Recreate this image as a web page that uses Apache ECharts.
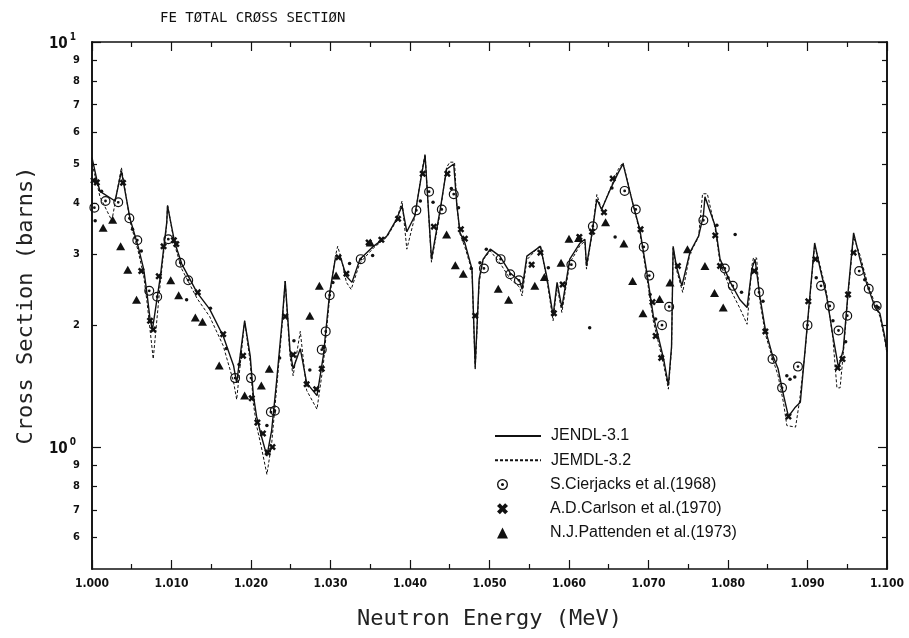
<!DOCTYPE html>
<html>
<head>
<meta charset="utf-8">
<title>FE TOTAL CROSS SECTION</title>
<script src="https://cdn.jsdelivr.net/npm/echarts@6/dist/echarts.min.js"></script>
<style>
  html, body { margin: 0; padding: 0; background: #ffffff; }
  #chart { width: 909px; height: 638px; }
</style>
</head>
<body>
<div id="chart"></div>
<script>
// Neutron energy grid (MeV) and evaluated total cross sections (barns)
const jendlE = [
  1.0000, 1.0006, 1.0010, 1.0029, 1.0037, 1.0048, 1.0058, 1.0065, 1.0069, 1.0073,
  1.0076, 1.0086, 1.0094, 1.0095, 1.0104, 1.0113, 1.0132, 1.0148, 1.0165, 1.0178,
  1.0182, 1.0192, 1.0199, 1.0203, 1.0207, 1.0213, 1.0220, 1.0226, 1.0232, 1.0239,
  1.0243, 1.0249, 1.0253, 1.0262, 1.0270, 1.0283, 1.0291, 1.0299, 1.0306, 1.0312,
  1.0320, 1.0327, 1.0337, 1.0354, 1.0371, 1.0383, 1.0390, 1.0396, 1.0406, 1.0415,
  1.0419, 1.0427, 1.0438, 1.0446, 1.0455, 1.0459, 1.0463, 1.0469, 1.0478, 1.0482,
  1.0487, 1.0492, 1.0501, 1.0513, 1.0526, 1.0538, 1.0541, 1.0547, 1.0564, 1.0572,
  1.0580, 1.0585, 1.0591, 1.0601, 1.0614, 1.0620, 1.0622, 1.0629, 1.0635, 1.0641,
  1.0652, 1.0662, 1.0668, 1.0681, 1.0689, 1.0698, 1.0706, 1.0719, 1.0725, 1.0729,
  1.0731, 1.0735, 1.0742, 1.0752, 1.0763, 1.0769, 1.0771, 1.0784, 1.0790, 1.0803,
  1.0815, 1.0824, 1.0830, 1.0834, 1.0840, 1.0847, 1.0855, 1.0863, 1.0870, 1.0876,
  1.0884, 1.0891, 1.0897, 1.0903, 1.0909, 1.0916, 1.0924, 1.0932, 1.0939, 1.0945,
  1.0951, 1.0958, 1.0966, 1.0974, 1.0985, 1.0991, 1.0997, 1.1000
];
const jendl31 = [
  5.18, 4.58, 4.28, 4.05, 4.80, 3.65, 3.13, 2.75, 2.41, 2.07,
  1.95, 2.64, 3.58, 3.94, 3.20, 2.83, 2.41, 2.19, 1.88, 1.59,
  1.44, 2.05, 1.68, 1.34, 1.19, 1.065, 0.95, 1.10, 1.44, 2.03,
  2.57, 1.74, 1.56, 1.75, 1.44, 1.34, 1.68, 2.41, 2.91, 2.96,
  2.64, 2.55, 2.91, 3.13, 3.32, 3.65, 3.94, 3.40, 3.72, 4.76,
  5.24, 2.91, 3.86, 4.85, 5.00, 3.94, 3.38, 3.19, 2.75, 1.58,
  2.60, 2.91, 3.08, 2.96, 2.69, 2.57, 2.45, 2.96, 3.13, 2.64,
  2.11, 2.55, 2.21, 2.91, 3.19, 3.26, 2.80, 3.38, 4.09, 3.86,
  4.33, 4.76, 5.00, 3.94, 3.45, 2.69, 2.11, 1.65, 1.42, 1.77,
  3.13, 2.80, 2.50, 3.02, 3.32, 3.72, 4.15, 3.51, 2.91, 2.55,
  2.31, 2.21, 2.75, 2.91, 2.36, 1.95, 1.71, 1.56, 1.34, 1.19,
  1.25, 1.29, 1.74, 2.36, 3.19, 2.75, 2.36, 1.88, 1.57, 1.74,
  2.41, 3.38, 2.91, 2.55, 2.21, 2.14, 1.88, 1.72
];

const jemdlE = [
  1.0000, 1.0006, 1.0010, 1.0025, 1.0037, 1.0048, 1.0058, 1.0065, 1.0069, 1.0073,
  1.0077, 1.0086, 1.0094, 1.0095, 1.0104, 1.0113, 1.0132, 1.0148, 1.0165, 1.0178,
  1.0182, 1.0192, 1.0199, 1.0203, 1.0207, 1.0213, 1.0220, 1.0226, 1.0232, 1.0239,
  1.0243, 1.0249, 1.0253, 1.0262, 1.0270, 1.0283, 1.0291, 1.0299, 1.0306, 1.0309,
  1.0314, 1.0320, 1.0326, 1.0337, 1.0354, 1.0371, 1.0383, 1.0390, 1.0396, 1.0406,
  1.0415, 1.0419, 1.0427, 1.0438, 1.0446, 1.0450, 1.0456, 1.0459, 1.0463, 1.0469,
  1.0478, 1.0482, 1.0487, 1.0492, 1.0501, 1.0513, 1.0526, 1.0538, 1.0541, 1.0547,
  1.0564, 1.0572, 1.0580, 1.0585, 1.0591, 1.0601, 1.0614, 1.0620, 1.0622, 1.0629,
  1.0635, 1.0641, 1.0652, 1.0662, 1.0668, 1.0681, 1.0689, 1.0698, 1.0706, 1.0719,
  1.0725, 1.0729, 1.0731, 1.0735, 1.0743, 1.0752, 1.0763, 1.0768, 1.0774, 1.0784,
  1.0790, 1.0803, 1.0815, 1.0824, 1.0830, 1.0832, 1.0836, 1.0840, 1.0847, 1.0855,
  1.0863, 1.0870, 1.0874, 1.0885, 1.0890, 1.0897, 1.0903, 1.0909, 1.0916, 1.0924,
  1.0932, 1.0937, 1.0941, 1.0945, 1.0951, 1.0958, 1.0966, 1.0974, 1.0985, 1.0991,
  1.0997, 1.1000
];
const jemdl32 = [
  5.00, 4.50, 4.15, 3.62, 4.90, 3.60, 3.05, 2.65, 2.30, 1.95,
  1.65, 2.55, 3.55, 3.97, 3.15, 2.75, 2.33, 2.10, 1.78, 1.45,
  1.31, 2.05, 1.62, 1.28, 1.13, 1.00, 0.856, 1.02, 1.38, 1.98,
  2.57, 1.68, 1.50, 1.93, 1.38, 1.24, 1.60, 2.35, 2.95, 3.13,
  2.90, 2.55, 2.45, 2.85, 3.10, 3.30, 3.62, 4.05, 3.08, 3.70,
  4.80, 5.30, 2.86, 3.80, 4.90, 5.05, 5.05, 3.94, 3.35, 3.12,
  2.72, 1.55, 2.55, 2.90, 3.05, 2.85, 2.60, 2.48, 2.36, 2.90,
  3.15, 2.60, 2.05, 2.50, 2.15, 2.85, 3.15, 3.22, 2.75, 3.35,
  4.20, 3.86, 4.35, 4.85, 5.04, 3.94, 3.40, 2.62, 2.05, 1.60,
  1.39, 1.75, 3.10, 2.75, 2.41, 3.00, 3.30, 4.22, 4.22, 3.45,
  2.85, 2.45, 2.20, 2.01, 2.80, 2.93, 2.93, 2.30, 1.90, 1.68,
  1.50, 1.28, 1.13, 1.12, 1.30, 1.72, 2.34, 3.15, 2.80, 2.40,
  1.85, 1.40, 1.40, 1.70, 2.38, 3.30, 2.98, 2.60, 2.25, 2.10,
  1.85, 1.70
];

// Measurements
const cierjacksE = [
  1.0003, 1.0017, 1.0033, 1.0047, 1.0057, 1.0072, 1.0082, 1.0096, 1.0111, 1.0121,
  1.0180, 1.0200, 1.0225, 1.0230, 1.0289, 1.0294, 1.0299, 1.0338, 1.0408, 1.0424,
  1.0440, 1.0455, 1.0493, 1.0514, 1.0526, 1.0537, 1.0603, 1.0630, 1.0670, 1.0684,
  1.0694, 1.0701, 1.0717, 1.0726, 1.0769, 1.0796, 1.0806, 1.0839, 1.0856, 1.0868,
  1.0888, 1.0900, 1.0917, 1.0928, 1.0939, 1.0950, 1.0965, 1.0977, 1.0987
];
const cierjacksXS = [
  3.90, 4.05, 4.02, 3.67, 3.24, 2.43, 2.35, 3.26, 2.85, 2.58,
  1.48, 1.48, 1.22, 1.23, 1.74, 1.93, 2.37, 2.91, 3.84, 4.27,
  3.86, 4.21, 2.76, 2.91, 2.67, 2.58, 2.82, 3.51, 4.29, 3.86,
  3.12, 2.65, 2.00, 2.22, 3.63, 2.76, 2.50, 2.41, 1.65, 1.40,
  1.58, 2.00, 2.50, 2.23, 1.94, 2.11, 2.72, 2.46, 2.23
];
const cierjacksFineE = [
  1.0004, 1.0012, 1.0051, 1.0062, 1.0119, 1.0149, 1.0169, 1.0185, 1.0220, 1.0236,
  1.0254, 1.0274, 1.0291, 1.0303, 1.0324, 1.0353, 1.0413, 1.0429, 1.0452, 1.0461,
  1.0477, 1.0488, 1.0496, 1.0574, 1.0626, 1.0654, 1.0658, 1.0702, 1.0709, 1.0786,
  1.0800, 1.0809, 1.0817, 1.0844, 1.0874, 1.0878, 1.0884, 1.0911, 1.0932, 1.0948,
  1.0972, 1.0989
];
const cierjacksFineXS = [
  3.62, 4.28, 3.45, 3.05, 2.31, 2.20, 1.75, 1.60, 1.13, 1.66,
  1.83, 1.55, 1.76, 2.55, 2.84, 2.97, 4.05, 4.02, 4.35, 3.90,
  2.76, 2.85, 3.08, 2.77, 1.97, 4.36, 3.30, 2.38, 2.07, 3.53,
  2.62, 3.35, 2.41, 2.29, 1.50, 1.47, 1.49, 2.62, 2.05, 1.82,
  2.59, 2.21
];

const carlsonE = [
  1.0002, 1.0006, 1.0039, 1.0062, 1.0073, 1.0077, 1.0084, 1.0090, 1.0103, 1.0106,
  1.0133, 1.0165, 1.0190, 1.0201, 1.0208, 1.0215, 1.0221, 1.0227, 1.0243, 1.0253,
  1.0270, 1.0282, 1.0289, 1.0310, 1.0320, 1.0348, 1.0364, 1.0385, 1.0416, 1.0430,
  1.0447, 1.0464, 1.0469, 1.0482, 1.0553, 1.0564, 1.0581, 1.0592, 1.0613, 1.0629,
  1.0644, 1.0655, 1.0690, 1.0705, 1.0709, 1.0716, 1.0737, 1.0784, 1.0790, 1.0833,
  1.0847, 1.0876, 1.0901, 1.0910, 1.0938, 1.0944, 1.0951, 1.0958
];
const carlsonXS = [
  4.55, 4.50, 4.49, 2.72, 2.05, 1.95, 2.64, 3.13, 3.24, 3.17,
  2.41, 1.90, 1.68, 1.32, 1.15, 1.08, 0.97, 1.00, 2.10, 1.69,
  1.43, 1.39, 1.56, 2.94, 2.68, 3.20, 3.25, 3.66, 4.73, 3.50,
  4.73, 3.45, 3.27, 2.11, 2.82, 3.02, 2.14, 2.52, 3.30, 3.40,
  3.80, 4.60, 3.45, 2.28, 1.88, 1.66, 2.80, 3.33, 2.80, 2.72,
  1.93, 1.19, 2.29, 2.91, 1.57, 1.65, 2.38, 3.02
];

const pattendenE = [
  1.0014, 1.0026, 1.0036, 1.0045, 1.0056, 1.0099, 1.0109, 1.0130, 1.0139, 1.0160,
  1.0192, 1.0213, 1.0223, 1.0274, 1.0286, 1.0307, 1.0350, 1.0446, 1.0457, 1.0467,
  1.0511, 1.0524, 1.0557, 1.0569, 1.0590, 1.0600, 1.0612, 1.0646, 1.0669, 1.0680,
  1.0693, 1.0714, 1.0727, 1.0749, 1.0771, 1.0783, 1.0794
];
const pattendenXS = [
  3.48, 3.64, 3.13, 2.74, 2.31, 2.58, 2.37, 2.09, 2.04, 1.59,
  1.34, 1.42, 1.56, 2.11, 2.50, 2.65, 3.20, 3.35, 2.81, 2.68,
  2.46, 2.31, 2.50, 2.63, 2.85, 3.27, 3.28, 3.59, 3.18, 2.57,
  2.14, 2.32, 2.55, 3.08, 2.80, 2.40, 2.21
];

// Axis ticks
const xTickStep = 0.01;
const yMinorTicks = [0.6, 0.7, 0.8, 0.9, 2, 3, 4, 5, 6, 7, 8, 9];
const yDecadeTicks = [1, 10];

const pairs = (xs, ys) => xs.map((x, i) => [x, ys[i]]);

// Marker shapes
const ringDot = 'path://M0,-10A10,10 0 1,1 0,10A10,10 0 1,1 0,-10Z' +
                'M0,-7.6A7.6,7.6 0 1,0 0,7.6A7.6,7.6 0 1,0 0,-7.6Z' +
                'M0,-2.8A2.8,2.8 0 1,1 0,2.8A2.8,2.8 0 1,1 0,-2.8Z';
const fatCross = 'path://M-5,-2.4L-2.4,-5L0,-2.4L2.4,-5L5,-2.4L2.4,0L5,2.4L2.4,5L0,2.4L-2.4,5L-5,2.4L-2.4,0Z';

const condensed = "'Liberation Sans Narrow', 'DejaVu Sans Condensed', 'DejaVu Sans', sans-serif";
const mono = "'DejaVu Sans Mono', monospace";
const sans = "'Liberation Sans', Arial, sans-serif";
const ink = '#111';

const chart = echarts.init(document.getElementById('chart'), null, { renderer: 'canvas' });

const frameLine = { show: true, lineStyle: { color: ink, width: 1.6 } };

const xCommon = {
  type: 'value', min: 1.0, max: 1.1, interval: xTickStep,
  axisLine: frameLine,
  axisTick: { show: true, inside: true, length: 9, lineStyle: { color: ink, width: 1.2 } },
  minorTick: { show: true, splitNumber: 2, length: 5, lineStyle: { color: ink, width: 1.2 } },
  splitLine: { show: false }, minorSplitLine: { show: false }
};

const yCommon = {
  type: 'log', logBase: 10, min: 0.5, max: 10,
  axisLine: frameLine, splitLine: { show: false }
};

function minorLabel(v) {
  return v < 1 ? String(Math.round(v * 10)) : String(Math.round(v));
}

chart.setOption({
  animation: false,
  backgroundColor: '#ffffff',
  title: {
    text: 'FE TØTAL CRØSS SECTIØN',
    left: 155, top: 6,
    textStyle: { fontFamily: mono, fontSize: 14, fontWeight: 'normal', color: ink }
  },
  grid: { left: 92, right: 22, top: 42, bottom: 69, containLabel: false, outerBoundsMode: 'none' },
  xAxis: [
    Object.assign({}, xCommon, {
      position: 'bottom',
      name: 'Neutron Energy (MeV)', nameLocation: 'middle', nameGap: 39,
      nameTextStyle: { fontFamily: mono, fontSize: 22, color: '#222' },
      axisLabel: {
        show: true, margin: 9, color: ink,
        fontFamily: condensed, fontSize: 12, fontWeight: 'bold',
        formatter: v => v.toFixed(3)
      }
    }),
    Object.assign({}, xCommon, { position: 'top', axisLabel: { show: false } })
  ],
  yAxis: [
    Object.assign({}, yCommon, {
      position: 'left',
      name: 'Cross Section (barns)', nameLocation: 'middle', nameGap: 55,
      nameTextStyle: { fontFamily: mono, fontSize: 22, color: '#222' },
      axisTick: { show: true, inside: true, length: 5, customValues: yMinorTicks,
                  lineStyle: { color: ink, width: 1.2 } },
      axisLabel: { show: true, customValues: yMinorTicks, margin: 12, color: ink,
                   fontFamily: condensed, fontSize: 11, fontWeight: 'bold',
                   formatter: minorLabel }
    }),
    Object.assign({}, yCommon, {
      position: 'left',
      axisTick: { show: true, inside: true, length: 9, customValues: yDecadeTicks,
                  lineStyle: { color: ink, width: 1.2 } },
      axisLabel: {
        show: true, customValues: yDecadeTicks, margin: 16, color: ink,
        formatter: v => '{b|10}{s|' + (v > 5 ? '1' : '0') + '}',
        rich: {
          b: { fontFamily: condensed, fontSize: 15, fontWeight: 'bold', color: ink, lineHeight: 20, verticalAlign: 'bottom' },
          s: { fontFamily: condensed, fontSize: 10, fontWeight: 'bold', color: ink, lineHeight: 20, verticalAlign: 'top', padding: [0, 0, 0, 2] }
        }
      }
    }),
    Object.assign({}, yCommon, {
      position: 'right',
      axisTick: { show: true, inside: true, length: 5, customValues: yMinorTicks,
                  lineStyle: { color: ink, width: 1.2 } },
      axisLabel: { show: false }
    }),
    Object.assign({}, yCommon, {
      position: 'right',
      axisTick: { show: true, inside: true, length: 9, customValues: yDecadeTicks,
                  lineStyle: { color: ink, width: 1.2 } },
      axisLabel: { show: false }
    })
  ],
  legend: [
    {
      data: ['JENDL-3.1', 'JEMDL-3.2'],
      orient: 'vertical', left: 489, top: 423,
      itemWidth: 46, itemHeight: 12, itemGap: 8.25,
      selectedMode: false,
      itemStyle: { opacity: 0 },
      textStyle: { fontFamily: sans, fontSize: 16, lineHeight: 16, color: ink, padding: [0, 0, 0, 5] }
    },
    {
      data: ['S.Cierjacks et al.(1968)', 'A.D.Carlson et al.(1970)', 'N.J.Pattenden et al.(1973)'],
      orient: 'vertical', left: 492, top: 471.5,
      itemWidth: 11, itemHeight: 11, itemGap: 8.25,
      selectedMode: false,
      textStyle: { fontFamily: sans, fontSize: 16, lineHeight: 16, color: ink, padding: [0, 0, 0, 37] }
    }
  ],
  series: [
    {
      name: 'JEMDL-3.2', type: 'line', symbol: 'none',
      data: pairs(jemdlE, jemdl32),
      lineStyle: { color: ink, width: 1, type: [3, 2] },
      itemStyle: { color: ink }, z: 2
    },
    {
      name: 'JENDL-3.1', type: 'line', symbol: 'none',
      data: pairs(jendlE, jendl31),
      lineStyle: { color: ink, width: 1.4, type: 'solid' },
      itemStyle: { color: ink }, z: 3
    },
    {
      name: 'S.Cierjacks et al.(1968)', type: 'scatter',
      symbol: ringDot, symbolSize: 10,
      data: pairs(cierjacksE, cierjacksXS),
      itemStyle: { color: ink, opacity: 1 }, z: 4
    },
    {
      name: 'S.Cierjacks et al.(1968)', type: 'scatter',
      symbol: 'circle', symbolSize: 3.5,
      data: pairs(cierjacksFineE, cierjacksFineXS),
      itemStyle: { color: ink, opacity: 1 }, z: 4
    },
    {
      name: 'A.D.Carlson et al.(1970)', type: 'scatter',
      symbol: fatCross, symbolSize: 7,
      data: pairs(carlsonE, carlsonXS),
      itemStyle: { color: ink, opacity: 1 }, z: 5
    },
    {
      name: 'N.J.Pattenden et al.(1973)', type: 'scatter',
      symbol: 'triangle', symbolSize: [9, 8],
      data: pairs(pattendenE, pattendenXS),
      itemStyle: { color: ink, opacity: 1 }, z: 5
    }
  ]
});
</script>
</body>
</html>
